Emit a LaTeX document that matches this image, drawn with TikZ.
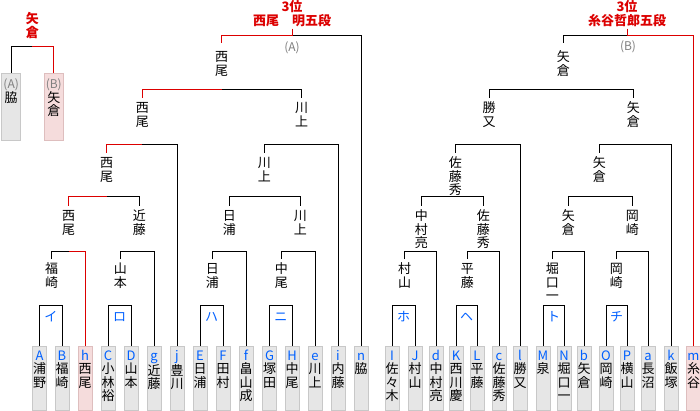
\documentclass[tikz,border=0pt]{standalone}
\usepackage{fontspec}
\newfontfamily\jp{Noto Sans CJK JP}
\definecolor{wred}{RGB}{220,0,0}
\definecolor{lblue}{RGB}{0,96,255}
\definecolor{lgray}{RGB}{128,128,128}
\definecolor{bfill}{RGB}{230,230,230}
\definecolor{bdraw}{RGB}{200,200,200}
\definecolor{pfill}{RGB}{245,220,220}
\definecolor{pdraw}{RGB}{222,190,190}
\newcommand\fl{\rule{0pt}{11.5pt}}
\newcommand\ent[5][ebox]{%
  \node[#1] (bx-#2) at (#3,346) {};
  \node[btxt] (tx-#2) at (#3,348.5) {\fl\textcolor{lblue}{#4}\\#5};}
\newcommand\wn[4][]{\node[wname,#1] (#2) at (#3) {\fl #4};}
\newcommand\bout[3]{\draw[ln] (#1.north) -- (#1.north |- #3) -- (#2.north |- #3) -- (#2.north);}
\newcommand\rwin[3]{\draw[rln] (#1.north) -- (#1.north |- #3) -- (#2 |- #3);}
\begin{document}
\begin{tikzpicture}[x=1pt,y=-1pt,
  ln/.style={line width=1pt,draw=black},
  rln/.style={line width=1pt,draw=wred},
  ebox/.style={draw=bdraw,fill=bfill,line width=1pt,minimum width=14pt,minimum height=64pt,inner sep=0,anchor=north},
  pbox/.style={ebox,draw=pdraw,fill=pfill},
  btxt/.style={font=\jp\fontsize{13}{13.5}\selectfont,align=center,inner sep=0,anchor=north},
  wname/.style={font=\jp\fontsize{13}{13.5}\selectfont,align=center,inner xsep=0,inner ysep=3pt,anchor=north},
  rlab/.style={font=\jp\fontsize{13}{13.5}\selectfont,text=lblue,inner sep=0},
  ttl/.style={font=\jp\bfseries\fontsize{13}{14}\selectfont,text=wred,align=center,inner sep=0,anchor=north},
  glab/.style={font=\jp\fontsize{12}{13}\selectfont,text=lgray,inner sep=0},
]
\useasboundingbox (0,0) rectangle (700,411);
\fill[white] (0,0) rectangle (700,411);
% levels
\coordinate (L0) at (0,47);
\coordinate (L1) at (0,305);
\coordinate (L2) at (0,252);
\coordinate (L3) at (0,197);
\coordinate (L4) at (0,145);
\coordinate (L5) at (0,90);
\coordinate (L6) at (0,36);
% top-left mini bracket
\node[ebox,minimum width=19pt,minimum height=67pt] (sA) at (11.2,73) {};
\node[pbox,minimum width=19pt,minimum height=67pt] (sB) at (53.8,73) {};
\node[btxt] (stA) at (11.2,77) {\fl{\fontsize{12}{13}\selectfont\textcolor{lgray}{(A)}}\\脇};
\node[btxt] (stB) at (53.8,77) {\fl{\fontsize{12}{13}\selectfont\textcolor{lgray}{(B)}}\\矢\\倉};
\node[ttl,font=\jp\bfseries\fontsize{13}{13.5}\selectfont] (ttl0) at (32.3,12) {\fl 矢\\倉};
% bottom entrants
\ent{A}{39.5}{A}{浦\\野}
\ent{B}{62}{B}{福\\崎}
\ent[pbox]{h}{85}{h}{西\\尾}
\ent{C}{108}{C}{小\\林\\裕}
\ent{D}{131}{D}{山\\本}
\ent{g}{154}{g}{近\\藤}
\ent{j}{177}{j}{豊\\川}
\ent{E}{200}{E}{日\\浦}
\ent{F}{223}{F}{田\\村}
\ent{f}{246}{f}{畠\\山\\成}
\ent{G}{269.5}{G}{塚\\田}
\ent{H}{292}{H}{中\\尾}
\ent{e}{315}{e}{川\\上}
\ent{i}{338}{i}{内\\藤}
\ent{n}{361}{n}{脇}
\ent{I}{392}{I}{佐\\々\\木}
\ent{J}{415}{J}{村\\山}
\ent{d}{436}{d}{中\\村\\亮}
\ent{K}{456}{K}{西\\川\\慶}
\ent{L}{477}{L}{平\\藤}
\ent{c}{499}{c}{佐\\藤\\秀}
\ent{l}{520}{l}{勝\\又}
\ent{M}{543}{M}{泉}
\ent{N}{564}{N}{堀\\口\\一}
\ent{b}{584}{b}{矢\\倉}
\ent{O}{606}{O}{岡\\崎}
\ent{P}{627}{P}{横\\山}
\ent{a}{648}{a}{長\\沼}
\ent{k}{671}{k}{飯\\塚}
\ent[pbox]{m}{693.5}{m}{糸\\谷}
% round-1 labels
\node[rlab] (r1) at (50.75,317) {イ};
\node[rlab] (r2) at (119.5,317) {ロ};
\node[rlab] (r3) at (211.5,317) {ハ};
\node[rlab] (r4) at (280.75,317) {ニ};
\node[rlab] (r5) at (403.5,317) {ホ};
\node[rlab] (r6) at (466.5,317) {ヘ};
\node[rlab] (r7) at (553.5,317) {ト};
\node[rlab] (r8) at (616.5,317) {チ};
% winners
\wn{w1a}{51.5,259}{福\\崎}
\wn{w1b}{120.3,259}{山\\本}
\wn{w1c}{212.3,259}{日\\浦}
\wn{w1d}{281.3,259}{中\\尾}
\wn{w1e}{404.7,259}{村\\山}
\wn{w1f}{467.3,259}{平\\藤}
\wn{w1g}{552.3,259}{堀\\口\\一}
\wn{w1h}{616.3,259}{岡\\崎}
\wn{w2a}{68.7,206}{西\\尾}
\wn{w2b}{139.3,206}{近\\藤}
\wn{w2c}{229.3,206}{日\\浦}
\wn{w2d}{300.3,206}{川\\上}
\wn{w2e}{421.3,206}{中\\村\\亮}
\wn{w2f}{483.3,206}{佐\\藤\\秀}
\wn{w2g}{568.3,206}{矢\\倉}
\wn{w2h}{632.3,206}{岡\\崎}
\wn{w3a}{106.7,153}{西\\尾}
\wn{w3b}{264.3,153}{川\\上}
\wn{w3c}{455.3,153}{佐\\藤\\秀}
\wn{w3d}{599.3,153}{矢\\倉}
\wn{w4a}{142.3,98}{西\\尾}
\wn{w4b}{301.7,98}{川\\上}
\wn{w4c}{489,98}{勝\\又}
\wn{w4d}{633.3,98}{矢\\倉}
\wn[inner ysep=7pt]{w5a}{221.7,43}{西\\尾}
\wn[inner ysep=7pt]{w5b}{563.3,43}{矢\\倉}
% titles
\node[ttl] (ttlA) at (292,0) {\fl 3位\\西尾　明五段};
\node[ttl] (ttlB) at (627,0) {\fl 3位\\糸谷哲郎五段};
\node[glab] (labA) at (292,48) {(A)};
\node[glab] (labB) at (628,47) {(B)};
% bouts (black)
\bout{sA}{sB}{L0}
\bout{bx-A}{bx-B}{L1}
\bout{bx-C}{bx-D}{L1}
\bout{bx-E}{bx-F}{L1}
\bout{bx-G}{bx-H}{L1}
\bout{bx-I}{bx-J}{L1}
\bout{bx-K}{bx-L}{L1}
\bout{bx-M}{bx-N}{L1}
\bout{bx-O}{bx-P}{L1}
\bout{w1a}{bx-h}{L2}
\bout{w1b}{bx-g}{L2}
\bout{w1c}{bx-f}{L2}
\bout{w1d}{bx-e}{L2}
\bout{w1e}{bx-d}{L2}
\bout{w1f}{bx-c}{L2}
\bout{w1g}{bx-b}{L2}
\bout{w1h}{bx-a}{L2}
\bout{w2a}{w2b}{L3}
\bout{w2c}{w2d}{L3}
\bout{w2e}{w2f}{L3}
\bout{w2g}{w2h}{L3}
\bout{w3a}{bx-j}{L4}
\bout{w3b}{bx-i}{L4}
\bout{w3c}{bx-l}{L4}
\bout{w3d}{bx-k}{L4}
\bout{w4a}{w4b}{L5}
\bout{w4c}{w4d}{L5}
\bout{w5a}{bx-n}{L6}
\bout{w5b}{bx-m}{L6}
% winning paths (red)
\rwin{sB}{ttl0}{L0}
\rwin{bx-h}{w2a}{L2}
\rwin{w2a}{w3a}{L3}
\rwin{w3a}{w4a}{L4}
\rwin{w4a}{w5a}{L5}
\rwin{w5a}{ttlA}{L6}
\rwin{bx-m}{ttlB}{L6}
\draw[rln] ([yshift=-1.5pt]ttlA.south) -- (ttlA.south |- L6);
\draw[rln] ([yshift=-1.5pt]ttlB.south) -- (ttlB.south |- L6);
\end{tikzpicture}
\end{document}
